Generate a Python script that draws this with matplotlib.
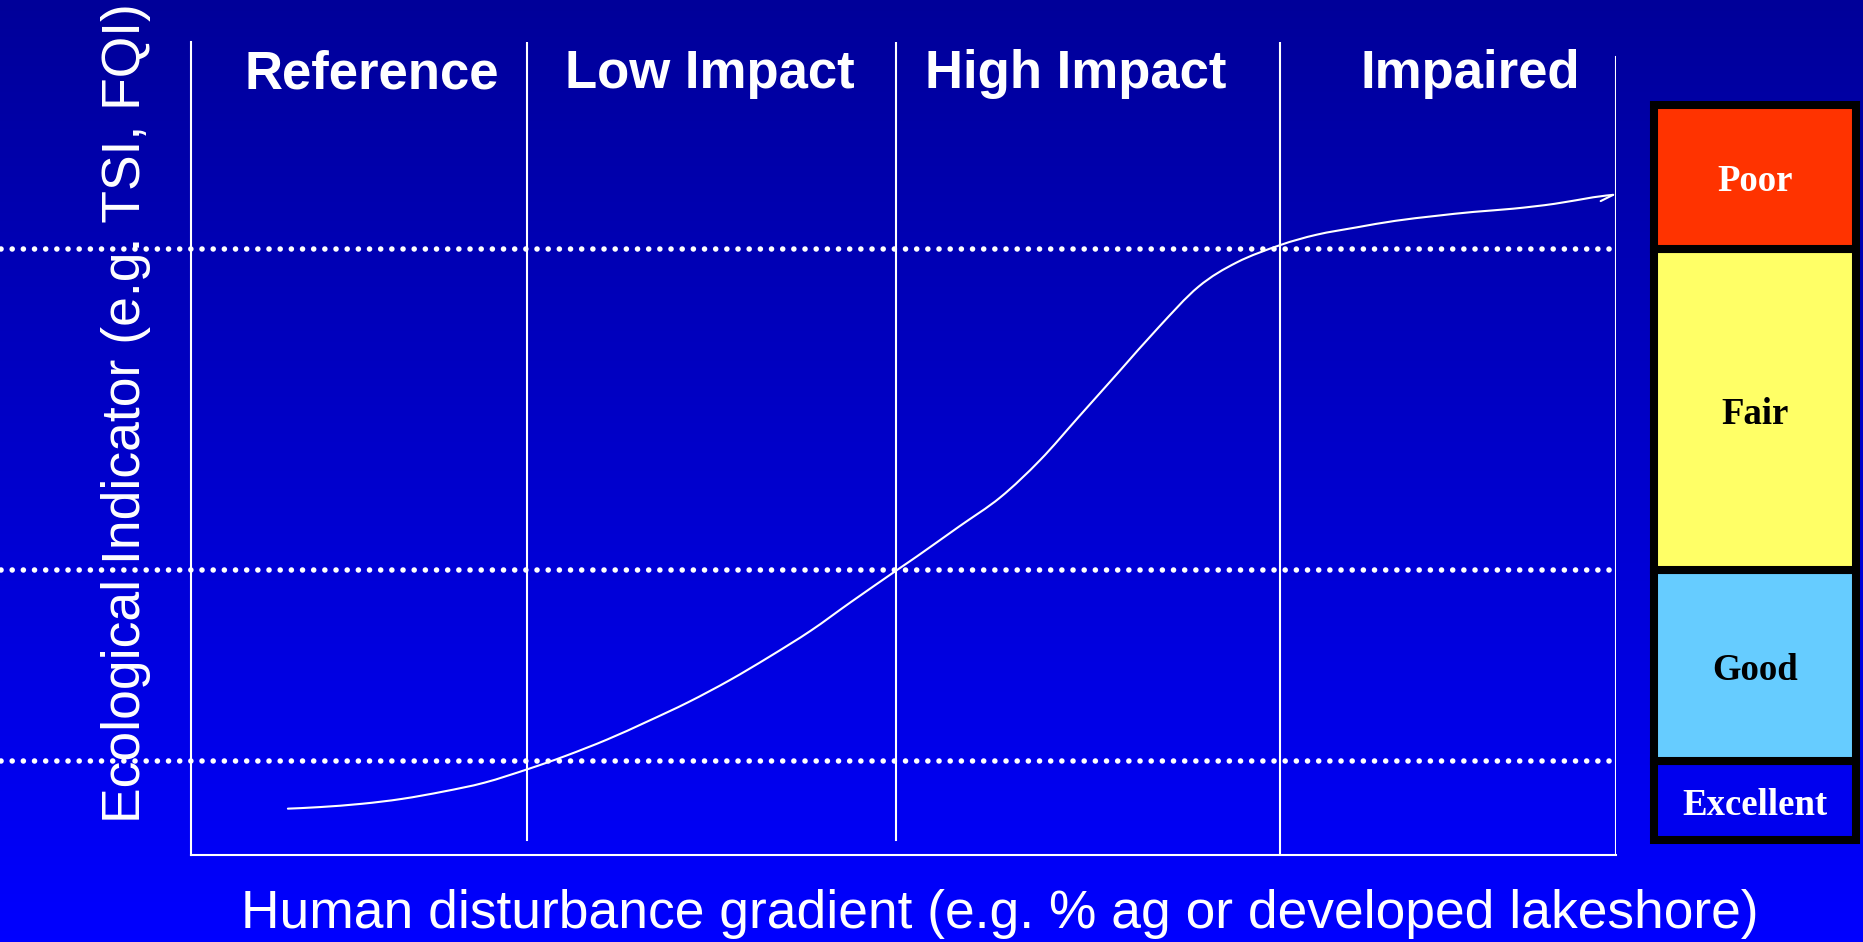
import numpy as np
import matplotlib
matplotlib.use('Agg')
import matplotlib.pyplot as plt
from matplotlib.colors import LinearSegmentedColormap
from matplotlib.path import Path
from matplotlib.patches import PathPatch

# conceptual response curve: indicator score along the disturbance gradient
disturbance = [6.8, 9.1, 12.0, 14.8, 17.7, 20.6, 23.7, 26.3, 29.2, 32.0, 34.9,
               37.8, 40.6, 43.5, 46.3, 49.5, 51.0, 53.9, 56.8, 59.6, 62.3,
               65.1, 67.9, 70.7, 73.4, 76.4, 79.0, 81.8, 84.5, 87.3, 90.0,
               92.8, 95.7, 98.4, 99.8]
indicator = [5.7, 5.9, 6.3, 6.9, 7.8, 8.9, 10.6, 12.2, 14.2, 16.4, 18.8,
             21.5, 24.4, 27.6, 31.1, 35.0, 36.8, 40.4, 44.0, 48.6, 53.9,
             59.4, 64.9, 69.9, 72.9, 75.0, 76.3, 77.2, 78.0, 78.6, 79.1,
             79.5, 80.1, 80.9, 81.2]

# condition classes, bottom to top, and their limits on the indicator scale
classes = ['Excellent', 'Good', 'Fair', 'Poor']
class_bounds = [1.8, 11.6, 35.1, 74.5, 92.3]
class_colors = ['#0000ee', '#66ccff', '#ffff66', '#ff3300']
class_text = ['white', 'black', 'black', 'white']

# disturbance zones along the x axis
zones = ['Reference', 'Low Impact', 'High Impact', 'Impaired']
zone_label_x = [12.7, 36.4, 62.1, 89.8]
zone_breaks = [23.6, 49.5, 76.4, 100]

W, H = 1863, 942
fig = plt.figure(figsize=(W / 100, H / 100), dpi=100)

# slide-style background, dark navy at top fading to bright blue
bg = fig.add_axes([0, 0, 1, 1])
grad = LinearSegmentedColormap.from_list('bg', ['#000099', '#0000ff'])
bg.imshow(np.linspace(0, 1, 256).reshape(-1, 1), cmap=grad, aspect='auto',
          extent=[0, 1, 0, 1])
bg.set_axis_off()

sans = 'Liberation Sans'
serif = 'Liberation Serif'

left, right, bottom, top = 191 / W, 1616 / W, 1 - 855 / H, 1 - 42 / H
ax = fig.add_axes([left, bottom, right - left, top - bottom])
ax.patch.set_alpha(0)
ax.set_xlim(0, 100)
ax.set_ylim(0, 100)
ax.set_xticks([])
ax.set_yticks([])
for s in ['top', 'right']:
    ax.spines[s].set_visible(False)
for s in ['left', 'bottom']:
    ax.spines[s].set_color('white')
    ax.spines[s].set_linewidth(1.5)

# zone dividers
ax.plot([zone_breaks[0]] * 2, [1.8, 100], color='white', lw=1.5)
ax.plot([zone_breaks[1]] * 2, [1.8, 100], color='white', lw=1.5)
ax.plot([zone_breaks[2]] * 2, [0, 100], color='white', lw=1.5)
ax.plot([zone_breaks[3]] * 2, [0, 98.2], color='white', lw=1.5)

for name, x in zip(zones, zone_label_x):
    ax.text(x, 94.3, name, color='white', fontsize=38, fontweight='bold',
            family=sans, ha='center', va='baseline')

# class thresholds as dotted lines running out to the page edge
for t in class_bounds[1:4]:
    ax.plot([-13.3, 99.6], [t, t], color='white', lw=4,
            linestyle=(0, (0.01, 2.0)), dash_capstyle='round', clip_on=False)

# smooth curve through the points (Catmull-Rom segments as cubic Beziers)
pts = np.column_stack([disturbance, indicator])
n = len(pts)
verts = [pts[0]]
codes = [Path.MOVETO]
for i in range(n - 1):
    p0, p1 = pts[max(i - 1, 0)], pts[i]
    p2, p3 = pts[i + 1], pts[min(i + 2, n - 1)]
    verts += [p1 + (p2 - p0) / 6, p2 - (p3 - p1) / 6, p2]
    codes += [Path.CURVE4] * 3
ax.add_patch(PathPatch(Path(verts, codes), fill=False, edgecolor='white',
                       lw=1.5, capstyle='round'))
ax.annotate('', xy=(disturbance[-1], indicator[-1]), xytext=(-9, -4.5),
            textcoords='offset points',
            arrowprops=dict(arrowstyle='-', color='white', lw=1.5,
                            shrinkA=0, shrinkB=0))

# condition class scale on the right
lx0, lx1 = 1654 / W, 1856 / W
lg = fig.add_axes([lx0, bottom, lx1 - lx0, top - bottom])
lg.set_xlim(-0.5, 0.5)
lg.set_ylim(0, 100)
lg.set_axis_off()
heights = np.diff(class_bounds)
lg.bar(0, heights, width=1, bottom=class_bounds[:-1], color=class_colors,
       edgecolor='black', linewidth=5.8, clip_on=False)
for name, b, h, c in zip(classes, class_bounds[:-1], heights, class_text):
    lg.text(0, b + h / 2 - 0.6, name, color=c, fontsize=26.5,
            fontweight='bold', family=serif, ha='center', va='center')

fig.text(1000 / W, 1 - 928 / H,
         'Human disturbance gradient (e.g. % ag or developed lakeshore)',
         color='white', fontsize=38.4, family=sans, ha='center', va='baseline')
fig.text(126 / W, 1 - 413 / H, 'Ecological Indicator (e.g. TSI, FQI)',
         color='white', fontsize=38.5, family=sans, rotation=90,
         ha='center', va='center')

fig.savefig('out.png', dpi=100)
